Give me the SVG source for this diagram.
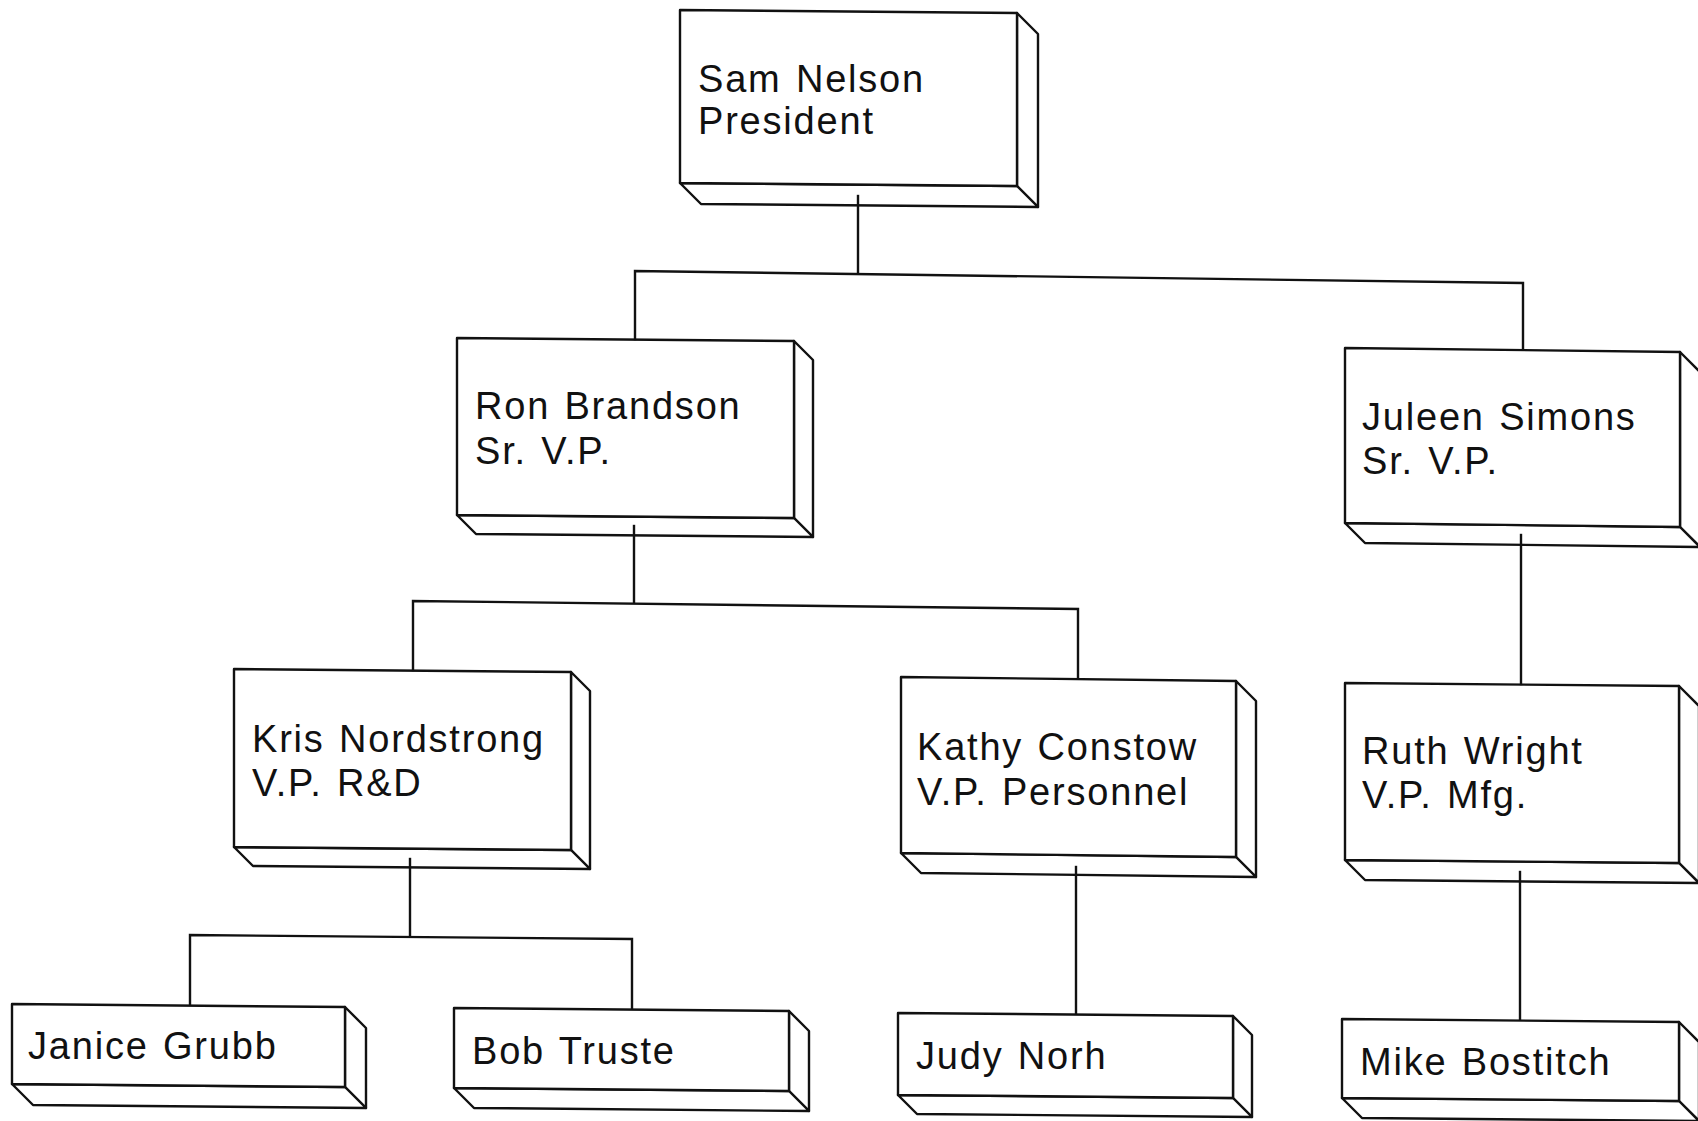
<svg xmlns="http://www.w3.org/2000/svg" width="1698" height="1121" viewBox="0 0 1698 1121">
  <style>
    .face { fill: #ffffff; stroke: #111111; stroke-width: 2.4; stroke-linejoin: round; }
    .link { fill: none; stroke: #111111; stroke-width: 2.4; stroke-linecap: square; }
    .label { font-family: "Liberation Sans", Arial, sans-serif; font-size: 38px; letter-spacing: 1.8px; word-spacing: 2px; fill: #111111; }
  </style>
  <rect width="1698" height="1121" fill="#ffffff"/>

  <!-- 3D block: right side face, bottom face, then front face -->
  <g id="node-sam-nelson">
    <polygon class="face" points="1017,13 1038,34 1038,207 1017,186"/>
    <polygon class="face" points="680,183 701,204 1038,207 1017,186"/>
    <polygon class="face" points="680,10 1017,13 1017,186 680,183"/>
    <text class="label" x="698" y="92">Sam Nelson</text>
    <text class="label" x="698" y="134">President</text>
  </g>

  <g id="node-ron-brandson">
    <polygon class="face" points="794,341 813,360 813,537 794,518"/>
    <polygon class="face" points="457,515 476,534 813,537 794,518"/>
    <polygon class="face" points="457,338 794,341 794,518 457,515"/>
    <text class="label" x="475" y="419">Ron Brandson</text>
    <text class="label" x="475" y="464">Sr. V.P.</text>
  </g>

  <g id="node-juleen-simons">
    <polygon class="face" points="1680,352 1700,372 1700,547 1680,527"/>
    <polygon class="face" points="1345,523 1365,543 1700,547 1680,527"/>
    <polygon class="face" points="1345,348 1680,352 1680,527 1345,523"/>
    <text class="label" x="1362" y="430">Juleen Simons</text>
    <text class="label" x="1362" y="474">Sr. V.P.</text>
  </g>

  <g id="node-kris-nordstrong">
    <polygon class="face" points="571,672 590,691 590,869 571,850"/>
    <polygon class="face" points="234,847 253,866 590,869 571,850"/>
    <polygon class="face" points="234,669 571,672 571,850 234,847"/>
    <text class="label" x="252" y="752">Kris Nordstrong</text>
    <text class="label" x="252" y="796">V.P. R&amp;D</text>
  </g>

  <g id="node-kathy-constow">
    <polygon class="face" points="1236,681 1256,701 1256,877 1236,857"/>
    <polygon class="face" points="901,853 921,873 1256,877 1236,857"/>
    <polygon class="face" points="901,677 1236,681 1236,857 901,853"/>
    <text class="label" x="917" y="760">Kathy Constow</text>
    <text class="label" x="917" y="805">V.P. Personnel</text>
  </g>

  <g id="node-ruth-wright">
    <polygon class="face" points="1679,686 1699,706 1699,883 1679,863"/>
    <polygon class="face" points="1345,860 1365,880 1699,883 1679,863"/>
    <polygon class="face" points="1345,683 1679,686 1679,863 1345,860"/>
    <text class="label" x="1362" y="764">Ruth Wright</text>
    <text class="label" x="1362" y="808">V.P. Mfg.</text>
  </g>

  <g id="node-janice-grubb">
    <polygon class="face" points="345,1007 366,1028 366,1108 345,1087"/>
    <polygon class="face" points="12,1084 33,1105 366,1108 345,1087"/>
    <polygon class="face" points="12,1004 345,1007 345,1087 12,1084"/>
    <text class="label" x="28" y="1059">Janice Grubb</text>
  </g>

  <g id="node-bob-truste">
    <polygon class="face" points="789,1011 809,1031 809,1111 789,1091"/>
    <polygon class="face" points="454,1088 474,1108 809,1111 789,1091"/>
    <polygon class="face" points="454,1008 789,1011 789,1091 454,1088"/>
    <text class="label" x="472" y="1064">Bob Truste</text>
  </g>

  <g id="node-judy-norh">
    <polygon class="face" points="1233,1016 1252,1035 1252,1117 1233,1098"/>
    <polygon class="face" points="898,1095 917,1114 1252,1117 1233,1098"/>
    <polygon class="face" points="898,1013 1233,1016 1233,1098 898,1095"/>
    <text class="label" x="916" y="1069">Judy Norh</text>
  </g>

  <g id="node-mike-bostitch">
    <polygon class="face" points="1679,1022 1699,1042 1699,1121 1679,1101"/>
    <polygon class="face" points="1342,1098 1362,1118 1699,1121 1679,1101"/>
    <polygon class="face" points="1342,1019 1679,1022 1679,1101 1342,1098"/>
    <text class="label" x="1360" y="1075">Mike Bostitch</text>
  </g>

  <!-- reporting lines -->
  <g id="connectors">
    <path class="link" d="M858,196 L858,272"/>
    <path class="link" d="M635,339 L635,271 L1523,283 L1523,349"/>
    <path class="link" d="M634,526 L634,602"/>
    <path class="link" d="M413,670 L413,601 L1078,609 L1078,678"/>
    <path class="link" d="M1521,535 L1521,684"/>
    <path class="link" d="M410,859 L410,936"/>
    <path class="link" d="M190,1004 L190,935 L632,939 L632,1008"/>
    <path class="link" d="M1076,867 L1076,1013"/>
    <path class="link" d="M1520,872 L1520,1019"/>
  </g>
</svg>
